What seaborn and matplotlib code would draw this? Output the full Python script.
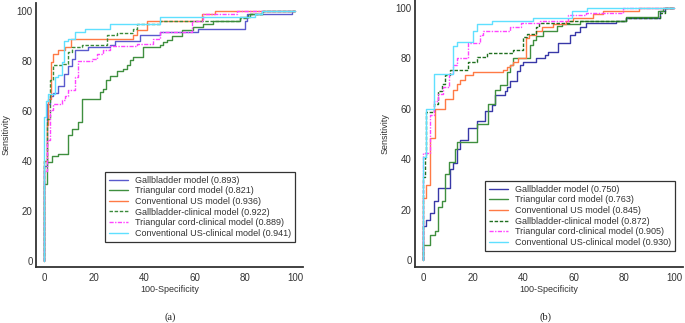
import matplotlib
matplotlib.use("Agg")
import matplotlib.pyplot as plt
import seaborn as sns
import pandas as pd

sns.set_style("white")
plt.rcParams["font.family"] = ["Liberation Sans", "DejaVu Sans"]

# ---- panel (a) ROC step points (100-specificity, sensitivity)
a_gb_x = [0, 0, 1.1, 2.4, 3.7, 5.7, 8.0, 9.6, 11.0, 12.3, 17.6, 26.3, 28.3, 38.1, 46.2, 61.5, 80.0, 81.0, 98.7, 100]
a_gb_y = [0, 38, 62.7, 66, 67.2, 70, 74.8, 78, 80.7, 84.4, 85.6, 86.6, 88, 90.4, 91.6, 93, 96.1, 98.7, 100, 100]
a_tc_x = [0, 0, 1.1, 3.0, 5.7, 9.7, 11.0, 13.7, 15.0, 22.3, 23.6, 24.7, 26.3, 29.0, 31.6, 32.9, 34.3, 35.6,
          39.6, 46.2, 47.5, 48.9, 50.9, 54.8, 59.5, 63.5, 67.5, 78.0, 82.0, 86.7, 100]
a_tc_y = [0, 31, 39.7, 42, 43, 50.5, 53, 55.5, 65, 67.5, 69, 72.5, 74, 76, 77, 78.5, 80.5, 81.5,
          85.5, 86.5, 87.5, 88.5, 90, 92.5, 93.5, 95, 96, 97.5, 98.7, 100, 100]
a_us_x = [0, 0, 1.1, 1.5, 2.7, 3.7, 5.7, 8.4, 10.8, 35.6, 36.9, 40.9, 62.8, 68.1, 100]
a_us_y = [0, 40, 54.4, 65, 79.6, 83, 84.4, 85.6, 89, 90.4, 92.4, 96.1, 98.7, 100, 100]
a_gbc_x = [0, 0, 1.1, 2.4, 3.7, 7.7, 9.7, 11.0, 15.0, 25.0, 29.0, 35.6, 36.9, 46.2, 78.0, 81.3, 87.4, 100]
a_gbc_y = [0, 40, 57, 72.4, 78.3, 79, 83.5, 85.5, 86.6, 90.4, 91.3, 93, 95, 96, 97.3, 98.7, 100, 100]
a_tcc_x = [0, 0, 1.1, 2.4, 3.7, 7.0, 8.4, 9.7, 12.3, 13.7, 19.0, 21.0, 23.6, 26.3, 36.9, 43.6, 46.2,
           58.8, 63.5, 76.8, 100]
a_tcc_y = [0, 36, 48.4, 60.4, 62.7, 64.5, 66, 68.5, 73.5, 80, 81, 83, 84.5, 86, 87, 89, 91.5,
           96, 98.7, 100, 100]
a_usc_x = [0, 0, 0.7, 1.5, 4.4, 5.7, 7.0, 8.0, 9.6, 12.3, 16.3, 26.3, 46.2, 84.0, 86.7, 100]
a_usc_y = [0, 57.7, 64, 67, 73.5, 74.5, 79.5, 88, 89, 91.6, 92.8, 95, 97.5, 98.7, 100, 100]

# ---- panel (b)
b_gb_x = [0, 0, 1.2, 2.8, 4.5, 6.1, 10.7, 12.0, 13.4, 14.7, 18.0, 21.4, 24.7, 27.3, 28.6, 32.6, 33.3,
          34.6, 37.3, 38.6, 40.0, 45.2, 48.5, 49.9, 53.8, 58.5, 60.5, 62.5, 65.0, 77.0, 81.0, 94.3, 96.3, 100]
b_gb_y = [0, 13.5, 16, 18.5, 23.5, 28.5, 36, 38.5, 44, 47.5, 52.5, 55, 59, 61.5, 65.5, 67, 68.5,
          71, 75, 77.5, 78.5, 80, 81.5, 82.5, 86, 89.5, 90.5, 92.5, 94, 95, 96, 98.7, 100, 100]
b_tc_x = [0, 0, 2.8, 4.8, 6.1, 7.4, 8.8, 10.5, 12.7, 13.4, 21.4, 26.0, 28.6, 30.6, 33.3, 34.6, 36.0,
          42.6, 43.9, 45.2, 47.9, 53.2, 55.2, 62.5, 81.0, 93.6, 95.6, 100]
b_tc_y = [0, 6, 10, 11.5, 21, 23.5, 34, 39, 44, 47, 54, 62, 67.5, 69.5, 74.5, 77.5, 80,
          85.5, 87.5, 89, 91, 93, 93.5, 95, 96.5, 98.7, 100, 100]
b_us_x = [0, 0, 1.2, 2.8, 4.8, 8.8, 12.0, 13.4, 14.7, 16.7, 20.0, 32.0, 33.3, 34.6, 36.0, 38.0, 41.0,
          42.3, 45.0, 47.6, 51.7, 57.0, 59.7, 67.8, 71.8, 86.0, 100]
b_us_y = [0, 24.5, 29.8, 48.3, 60, 63.8, 67.5, 70, 71.5, 73.5, 74.5, 75.5, 76.5, 77.5, 78.5, 80, 88,
          89.5, 91, 92.5, 93.5, 95, 96, 97.5, 99, 100, 100]
b_gbc_x = [0, 0, 0.6, 1.2, 4.5, 6.1, 7.4, 8.8, 10.7, 18.0, 21.4, 25.3, 36.0, 40.0, 41.3, 45.0, 46.3,
           58.5, 81.0, 94.3, 96.3, 100]
b_gbc_y = [0, 33, 41, 58.7, 62, 67, 70, 73.5, 75.5, 78.5, 80.5, 82, 83.5, 88.5, 89.7, 92.5, 94,
           94.7, 96, 98, 100, 100]
b_tcc_x = [0, 0, 2.8, 4.5, 5.8, 8.0, 10.5, 12.0, 13.4, 18.0, 22.7, 24.0, 34.6, 39.0, 46.5, 57.8, 65.0, 79.7, 100]
b_tcc_y = [0, 42.5, 57.6, 63, 66, 68.5, 74, 77.5, 80, 86.2, 89.5, 91, 92.5, 94, 95, 97.3, 98, 100, 100]
b_usc_x = [0, 0, 1.2, 4.5, 12.0, 13.4, 19.8, 21.4, 27.3, 43.9, 59.4, 65.3, 100]
b_usc_y = [0, 41, 60, 73.9, 84.8, 86.4, 91, 93.5, 94.7, 96, 98.9, 100, 100]

names = ["Gallbladder model", "Triangular cord model", "Conventional US model",
         "Gallbladder-clinical model", "Triangular cord-clinical model", "Conventional US-clinical model"]
auc_a = ["0.893", "0.821", "0.936", "0.922", "0.889", "0.941"]
auc_b = ["0.750", "0.763", "0.845", "0.872", "0.905", "0.930"]

curves_a = [(a_gb_x, a_gb_y), (a_tc_x, a_tc_y), (a_us_x, a_us_y),
            (a_gbc_x, a_gbc_y), (a_tcc_x, a_tcc_y), (a_usc_x, a_usc_y)]
curves_b = [(b_gb_x, b_gb_y), (b_tc_x, b_tc_y), (b_us_x, b_us_y),
            (b_gbc_x, b_gbc_y), (b_tcc_x, b_tcc_y), (b_usc_x, b_usc_y)]

colors_a = ["#5a5acd", "#3f8f3f", "#ff7a45", "#3a8a3a", "#ff44ff", "#5fe0ff"]
colors_b = ["#3838a8", "#3f8f3f", "#ff7a45", "#1f6f1f", "#ff44ff", "#5fe0ff"]
dashes = [None, None, None, (2.5, 1.2), (3, 1, 1, 1), None]

fig = plt.figure(figsize=(6.85, 3.23), dpi=100)
ax_a = fig.add_axes([36 / 685, 56 / 323, 267 / 685, 264 / 323])
ax_b = fig.add_axes([415 / 685, 56 / 323, 268 / 685, 267 / 323])


def draw(ax, curves, aucs, colors, xlim, ylim, leg_anchor):
    for (xs, ys), name, auc, c, d in zip(curves, names, aucs, colors, dashes):
        df = pd.DataFrame({"x": xs, "y": ys})
        kw = {}
        if d is not None:
            kw["dashes"] = d
        sns.lineplot(data=df, x="x", y="y", ax=ax, color=c, lw=1.0, sort=False,
                     estimator=None, drawstyle="steps-post",
                     label=f"{name} ({auc})", **kw)
    ax.set_xlim(*xlim)
    ax.set_ylim(*ylim)
    ax.set_xticks(range(0, 101, 20))
    ax.set_yticks(range(0, 101, 20))
    ax.set_xticks(range(0, 101, 5), minor=True)
    ax.set_yticks(range(0, 101, 5), minor=True)
    for s in ["top", "right"]:
        ax.spines[s].set_visible(False)
    for s in ["left", "bottom"]:
        ax.spines[s].set_color("#333333")
        ax.spines[s].set_linewidth(1.3)
    ax.tick_params(which="major", direction="in", length=5, width=1.1, color="#333333",
                   labelsize=7, labelcolor="#333333", pad=2.5)
    ax.tick_params(which="minor", direction="in", length=2.6, width=0.8, color="#333333")
    ax.tick_params(axis="x", which="major", pad=4)
    ax.set_xlabel("100-Specificity", fontsize=6.5, color="#333333", labelpad=2)
    ax.set_ylabel("Sensitivity", fontsize=6.5, color="#333333", labelpad=4)
    leg = ax.legend(loc="lower right", bbox_to_anchor=leg_anchor, borderaxespad=0,
                    fontsize=6.5, frameon=True, fancybox=False, handlelength=2.1,
                    handletextpad=0.8, labelspacing=0.18, borderpad=0.45)
    leg.get_frame().set_edgecolor("black")
    leg.get_frame().set_linewidth(0.9)
    for t in leg.get_texts():
        t.set_color("#333333")


draw(ax_a, curves_a, auc_a, colors_a, (-3.2, 103.2), (-2.4, 103.2), (0.970, 0.095))
draw(ax_b, curves_b, auc_b, colors_b, (-3.2, 103.6), (-2.8, 103.2), (0.970, 0.060))

fig.text(170 / 685, 1 - 317 / 323, "(a)", ha="center", va="center", fontsize=7.5,
         family=["Liberation Serif"], color="#222222")
fig.text(545 / 685, 1 - 317 / 323, "(b)", ha="center", va="center", fontsize=7.5,
         family=["Liberation Serif"], color="#222222")

fig.savefig("out.png", dpi=100)
